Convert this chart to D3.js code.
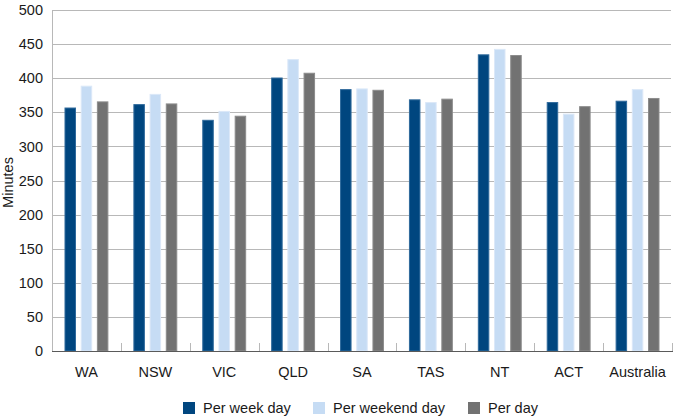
<!DOCTYPE html>
<html><head><meta charset="utf-8">
<script src="https://cdn.jsdelivr.net/npm/d3@7"></script>
<style>body{margin:0;background:#fff}svg{display:block;font-family:"Liberation Sans",Arial,sans-serif}</style>
</head><body><svg id="c" width="675" height="420"></svg>
<script>
const categories = ["WA","NSW","VIC","QLD","SA","TAS","NT","ACT","Australia"];
const seriesNames = ["Per week day","Per weekend day","Per day"];
const perWeekDay    = [357,362,339,401,384,369,435,365,367];
const perWeekendDay = [389,377,352,428,385,365,443,348,384];
const perDay        = [366,363,345,408,383,370,434,359,371];
const yTicks = [0,50,100,150,200,250,300,350,400,450,500];
const colors = ["#00467f","#c6dcf4","#727272"];
const strokes = ["#2f6a9c","#dbe8f8","#8c8c8c"];
const FS = 14.5;

const series = [perWeekDay, perWeekendDay, perDay];
const svg = d3.select("#c");
const m = {l:52, r:672, t:10, b:351};
const x = d3.scaleBand().domain(categories).range([m.l, m.r]).padding(0);
const y = d3.scaleLinear().domain([0,500]).range([m.b, m.t]);
const barW = 11.5, step = 16.2;

// gridlines
svg.append("g").selectAll("line").data(yTicks.filter(d=>d>0)).join("line")
  .attr("x1", m.l).attr("x2", m.r-1).attr("y1", d=>Math.round(y(d))+0.5).attr("y2", d=>Math.round(y(d))+0.5)
  .attr("stroke","#b8b8b8").attr("stroke-width",1);

// y axis line
svg.append("line").attr("x1",m.l+0.5).attr("x2",m.l+0.5).attr("y1",m.t).attr("y2",m.b)
  .attr("stroke","#b8b8b8");

// y tick labels
const ya = d3.axisLeft(y).tickValues(yTicks).tickSize(0).tickPadding(9);
const yg = svg.append("g").attr("transform",`translate(${m.l},0)`).call(ya);
yg.select(".domain").remove();
yg.selectAll("text").attr("font-size",FS).attr("fill","#1a1a1a").attr("font-family","Liberation Sans, Arial, sans-serif");

// bars
categories.forEach((c,i)=>{
  const cx = x(c) + x.bandwidth()/2;
  series.forEach((s,j)=>{
    const bx = cx + (j-1)*step - barW/2;
    svg.append("rect")
      .attr("x", bx+0.5).attr("y", y(s[i])+0.5)
      .attr("width", barW-1).attr("height", y(0)-y(s[i])-0.5)
      .attr("fill", colors[j]).attr("stroke", strokes[j]).attr("stroke-width",1);
  });
});

// x axis
const xa = d3.axisBottom(x).tickSize(0).tickPadding(16);
const xg = svg.append("g").attr("transform",`translate(0,${m.b})`).call(xa);
xg.select(".domain").remove();
xg.selectAll("text").attr("font-size",FS).attr("fill","#1a1a1a").attr("font-family","Liberation Sans, Arial, sans-serif");
// boundary ticks (upward)
const bounds = categories.map(c=>x(c)).concat([m.r]);
svg.append("g").selectAll("line").data(bounds).join("line")
  .attr("x1",d=>Math.round(d)+0.5).attr("x2",d=>Math.round(d)+0.5)
  .attr("y1",m.b-8).attr("y2",m.b).attr("stroke","#b8b8b8");
svg.append("line").attr("x1",m.l).attr("x2",m.r+1).attr("y1",m.b+0.5).attr("y2",m.b+0.5)
  .attr("stroke","#5a5a5a");

// y title
svg.append("text").attr("transform",`translate(13,${(m.t+m.b)/2+2}) rotate(-90)`)
  .attr("text-anchor","middle").attr("font-size",FS).attr("fill","#1a1a1a").text("Minutes");

// legend
const legX = [183, 313, 468];
const lg = svg.append("g");
seriesNames.forEach((n,j)=>{
  lg.append("rect").attr("x",legX[j]).attr("y",402).attr("width",12).attr("height",12).attr("fill",colors[j]);
  lg.append("text").attr("x",legX[j]+20).attr("y",413).attr("font-size",FS).attr("fill","#1a1a1a").text(n);
});
</script></body></html>
